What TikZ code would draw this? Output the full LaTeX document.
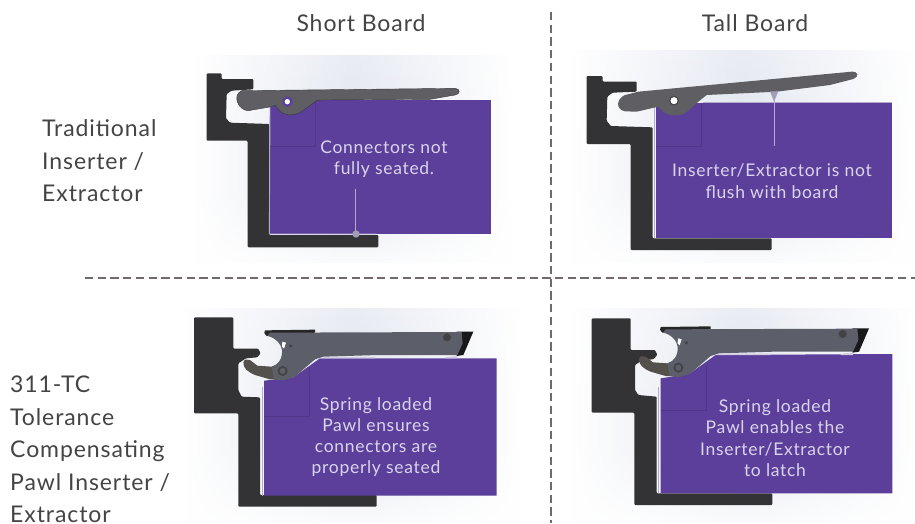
\documentclass[tikz,border=0pt]{standalone}
\usepackage{fontspec}
\setmainfont{Lato}
\usetikzlibrary{fadings}
\definecolor{boardc}{HTML}{5B3F9A}
\definecolor{edgec}{HTML}{B4A9CF}
\definecolor{framec}{HTML}{333335}
\definecolor{leverc}{HTML}{5E5E63}
\definecolor{pawlb}{HTML}{54504C}
\definecolor{pawlg}{HTML}{5C5F69}
\definecolor{txtc}{HTML}{DAD4EC}
\definecolor{labc}{HTML}{444444}
\definecolor{dashc}{HTML}{74686A}
\definecolor{tintc}{HTML}{E1E5EE}
\definecolor{tintb}{HTML}{EBEEF5}
\definecolor{tintd}{HTML}{F9FAFC}
\pgfdeclareverticalshading{bandsh}{100bp}{color(0bp)=(white); color(22bp)=(white); color(42bp)=(tintc); color(55bp)=(tintc); color(80bp)=(tintb); color(100bp)=(tintd)}
\tikzfading[name=edgefade,left color=transparent!100,right color=transparent!100,middle color=transparent!0]
\newfontfamily\sidefont[LetterSpace=4]{Lato}
\newfontfamily\boardfont[LetterSpace=4]{Lato}
\tikzset{
  x=1pt,y=-1pt,
  framest/.style={fill=framec,draw=none,rounded corners=1pt},
  boardst/.style={fill=boardc,draw=none},
  boardedge/.style={draw=edgec,line width=0.9pt},
  leverst/.style={fill=leverc,draw=none},
  insq/.style={draw=boardc!88!black,line width=0.4pt},
  leader/.style={draw=edgec,line width=1pt},
  sidelab/.style={text=labc,font=\sidefont\fontsize{23}{32.5}\selectfont,align=left,anchor=north west,inner sep=0pt},
  headlab/.style={text=labc,font=\sidefont\fontsize{23}{26}\selectfont,inner sep=0pt},
  boardlab/.style={text=txtc,font=\boardfont\fontsize{17.5}{21.3}\selectfont,align=center,inner sep=0pt},
  sepline/.style={draw=dashc,line width=1.8pt,dash pattern=on 8.3pt off 4.4pt},
  bgband/.style={draw=none,path fading=edgefade,shading=bandsh},
}
\newcommand{\pawlassembly}{%
  % brown pawl
  \fill[pawlb] (220,187) .. controls (222,178) and (232,176) .. (240,180) -- (262,197) -- (305,200) -- (345,185) -- (350,240) -- (300,238) -- (255,225) .. controls (232,215) and (220,205) .. (220,187) -- cycle;
  % black strip and tip
  \fill[black!85] (285,91) -- (435,89) -- (435,98) -- (290,108) .. controls (282,104) and (281,95) .. (285,91) -- cycle;
  \fill[black!90] (860,95) -- (910,95) -- (880,165) -- (860,168) -- cycle;
  % grey body with the hook opening
  \fill[pawlg] (292,108) -- (300,98) -- (875,96) -- (878,130) -- (862,165) -- (625,165) -- (460,170) -- (435,178) -- (372,232) -- (340,241) -- (312,238) -- (305,200) .. controls (325,195) and (338,175) .. (336,150) .. controls (334,132) and (315,112) .. (292,108) -- cycle;
  \fill[white] (337,125) -- (348,128) -- (342,146) -- (336,140) -- cycle;
  \fill[leverc!70!black] (338,213) circle (15);
  \fill[pawlg] (338,213) circle (9);
  \fill[leverc!70!black] (362,138) circle (5);
  \fill[leverc!70!black] (831,112) circle (12);
  \fill[edgec!60!white] (460,171) -- (615,171) -- (615,175) -- (450,175) -- cycle;
  \fill[edgec!60!white] (825,171) -- (862,168) -- (862,175) -- (825,175) -- cycle;
}
\begin{document}
\begin{tikzpicture}
\useasboundingbox (0,0) rectangle (915,523);
\fill[white] (0,0) rectangle (915,523);

% backgrounds
\path[bgband] (195,55) rectangle (512,262);
\path[bgband] (572,50) rectangle (912,262);
\path[bgband] (185,308) rectangle (520,522);
\path[bgband] (572,308) rectangle (915,522);

% panel 1
\begin{scope}[shift={(180,50)},scale=1/3]
  \fill[framest] (80,70) -- (125,70) -- (125,87) -- (220,87) -- (220,118) -- (155,122) -- (140,132) -- (138,205) -- (150,218) -- (268,222) -- (268,555) -- (595,555) -- (595,592) -- (203,592) -- (203,272) -- (80,272) -- cycle;
  \fill[boardst] (270,150) rectangle (932,552);
  \draw[boardedge] (270,170) -- (268,552) -- (590,552);
  \draw[insq] (405,150) -- (405,290) -- (270,290);
  \fill[leverst,draw=leverc!60!black,line width=0.4pt] (185,122) -- (825,115) .. controls (842,116) and (842,132) .. (825,135) -- (750,148) -- (430,150) -- (410,152) -- (360,188) .. controls (340,198) and (315,198) .. (298,182) -- (285,165) -- (275,170) -- (205,182) .. controls (175,182) and (155,135) .. (185,122) -- cycle;
  \fill[boardc] (322,155) circle (16);
  \fill[white] (322,155) circle (8);
  \coordinate (d1top) at (528,418);
  \coordinate (d1bot) at (528,552);
  \draw[leader] (d1top) -- (d1bot);
  \fill[edgec!70!gray] (d1bot) circle (11);
\end{scope}

% panel 2
\begin{scope}[shift={(570,50)},scale=1/3]
  \fill[framest] (50,78) -- (98,78) -- (98,95) -- (200,95) -- (200,125) -- (128,128) -- (112,140) -- (110,212) -- (122,228) -- (248,232) -- (248,565) -- (605,565) -- (605,600) -- (182,600) -- (182,282) -- (50,282) -- cycle;
  \fill[boardst] (258,158) rectangle (967,565);
  \draw[boardedge] (253,170) -- (253,565);
  \draw[boardedge] (400,158) -- (967,158);
  \draw[insq] (395,158) -- (395,290) -- (258,290);
  \fill[leverst] (165,135) -- (205,125) -- (845,65) .. controls (866,64) and (868,80) .. (850,87) -- (780,105) -- (620,125) -- (410,135) -- (385,155) -- (345,190) .. controls (325,200) and (295,198) .. (280,185) -- (265,170) -- (200,185) -- (165,184) .. controls (135,178) and (140,145) .. (165,135) -- cycle;
  \fill[white] (312,152) circle (11);
  \draw[leverc!75!black,line width=1pt] (312,152) circle (13);
  \coordinate (d2top) at (612,150);
  \coordinate (d2bot) at (612,287);
  \draw[leader] (d2top) -- (d2bot);
  \fill[edgec!70!gray] (600,124) -- (625,124) -- (612,155) -- cycle;
\end{scope}

% panel 3
\begin{scope}[shift={(170,300)},scale=1/3]
  \fill[framest] (72,52) -- (190,52) -- (190,146) -- (265,146) -- (272,160) -- (262,172) -- (228,175) -- (205,190) -- (205,270) -- (215,290) -- (270,292) -- (270,585) -- (620,585) -- (620,620) -- (205,620) -- (205,340) -- (72,340) -- cycle;
  \fill[boardst] (282,242) -- (370,232) -- (450,175) -- (980,175) -- (980,587) -- (282,587) -- cycle;
  \draw[boardedge] (276,260) -- (276,587);
  \draw[insq] (418,205) -- (418,348) -- (282,348);
  \pawlassembly
\end{scope}

% panel 4
\begin{scope}[shift={(570,300)},scale=1/3]
  \fill[framest] (65,55) -- (182,55) -- (182,150) -- (255,150) -- (262,165) -- (250,178) -- (218,180) -- (195,195) -- (195,270) -- (205,285) -- (260,290) -- (260,580) -- (607,580) -- (607,615) -- (193,615) -- (193,338) -- (65,338) -- cycle;
  \fill[boardst] (272,235) -- (357,222) -- (437,165) -- (967,162) -- (967,580) -- (272,580) -- cycle;
  \draw[boardedge] (266,260) -- (266,580);
  \draw[insq] (408,195) -- (408,332) -- (272,332);
  \begin{scope}[shift={(-13,-10)}]
    \pawlassembly
  \end{scope}
\end{scope}

% separators
\coordinate (vtop) at (551,12);
\coordinate (vbot) at (551,523);
\coordinate (hleft) at (85,278);
\coordinate (hright) at (915,278);
\draw[sepline] (vtop) -- (vbot);
\draw[sepline] (hleft) -- (hright);

% labels
\node[headlab] (short) at (361,23) {Short Board};
\node[headlab] (tall) at (755,23) {Tall Board};
\node[sidelab] (trad) at (42,119.5) {Traditional\\Inserter /\\Extractor};
\node[sidelab] (tc) at (10,376) {311-TC\\Tolerance\\Compensating\\Pawl Inserter /\\Extractor};
\node[boardlab] (t1) at (384,159) {Connectors not\\fully seated.};
\node[boardlab] (t2) at (772,181) {Inserter/Extractor is not\\flush with board};
\node[boardlab] (t3) at (376,437) {Spring loaded\\Pawl ensures\\connectors are\\properly seated};
\node[boardlab] (t4) at (775,438) {Spring loaded\\Pawl enables the\\Inserter/Extractor\\to latch};
\end{tikzpicture}
\end{document}
